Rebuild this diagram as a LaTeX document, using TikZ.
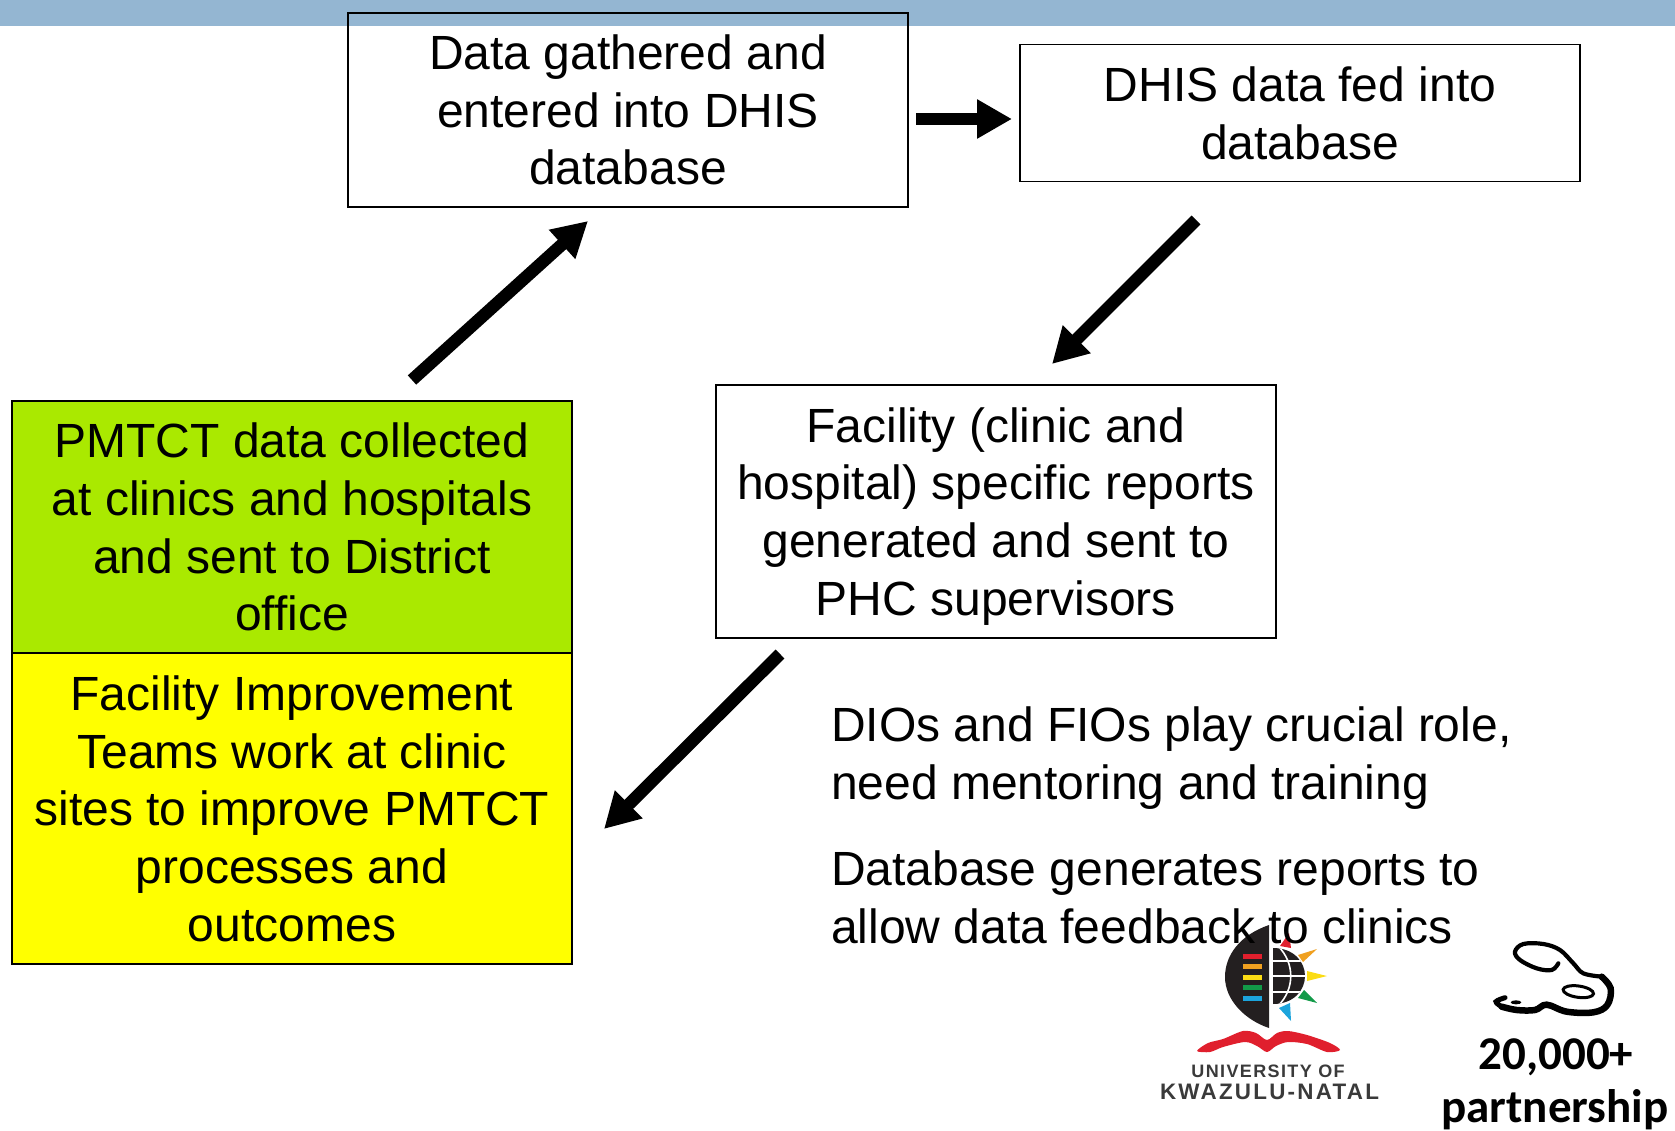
\documentclass[tikz,border=0pt]{standalone}
\usepackage{fontspec}
\setmainfont{Liberation Sans}
\newfontfamily\calibrib[Scale=1]{Carlito}
\usetikzlibrary{arrows.meta}
\definecolor{band}{HTML}{94B6D2}
\definecolor{greenbox}{HTML}{AAE900}
\definecolor{yellowbox}{HTML}{FFFF00}
\definecolor{shieldblack}{HTML}{231F20}
\definecolor{logored}{HTML}{E01F2D}
\definecolor{logoorange}{HTML}{F0A020}
\definecolor{logoyellow}{HTML}{FBDC14}
\definecolor{logogreen}{HTML}{129A48}
\definecolor{logoblue}{HTML}{1CA4DC}
\definecolor{logotext}{HTML}{3A3A3A}
\tikzset{
  flowbox/.style={draw=black,line width=1.8pt,inner sep=0pt,align=center,font=\fontsize{48}{57.8}\selectfont},
  flowarrow/.style={line width=12.5pt,-{Triangle[length=35pt,width=37pt]}},
  sidetext/.style={inner sep=0pt,align=left,anchor=west,font=\fontsize{48}{57.8}\selectfont},
  partner/.style={inner sep=0pt,text=black,font=\fontsize{47}{50}\calibrib\bfseries}
}
\begin{document}
\begin{tikzpicture}[x=1pt,y=-1pt]
\useasboundingbox (0,0) rectangle (1675,1131);
\fill[band] (0,0) rectangle (1675,26);
%
% UKZN logo
\fill[shieldblack] (1269,925) .. controls (1240,935) and (1225,955) .. (1225,977) .. controls (1225,1000) and (1245,1020) .. (1269,1028) -- cycle;
\fill[logored] (1243.3,953.8) rectangle (1261.7,958.8);
\fill[logoorange] (1243.3,964.2) rectangle (1261.7,969.2);
\fill[logoyellow] (1243.3,974.8) rectangle (1261.7,979.8);
\fill[logogreen] (1243.3,985.2) rectangle (1261.7,990.2);
\fill[logoblue] (1243.3,995.8) rectangle (1261.7,1000.8);
\begin{scope}
\clip (1273,948) .. controls (1294,948) and (1305,962) .. (1305,976) .. controls (1305,990) and (1294,1004) .. (1273,1004) -- cycle;
\fill[shieldblack] (1260,940) rectangle (1310,1010);
\draw[white,line width=1.6pt] (1270,961) -- (1310,961) (1270,976) -- (1310,976) (1270,992) -- (1310,992);
\draw[white,line width=1.6pt] (1278,946) .. controls (1295,963) and (1295,989) .. (1278,1006);
\end{scope}
\fill[logored] (1289,933) -- (1280,946) -- (1291,948) -- cycle;
\fill[logoorange] (1317,949) -- (1298,955) -- (1303,962) -- cycle;
\fill[logoyellow] (1327,976) -- (1307,971) -- (1307,981) -- cycle;
\fill[logogreen] (1317,1003) -- (1304,990) -- (1298,998) -- cycle;
\fill[logoblue] (1291,1021) -- (1279,1008) -- (1290,1003) -- cycle;
\fill[logored] plot[smooth cycle,tension=0.5] coordinates {(1197,1051) (1208,1043) (1223,1039) (1243,1031) (1256,1033) (1267,1040) (1277,1033) (1288,1031) (1307,1035) (1330,1043) (1340,1050) (1327,1052) (1307,1044) (1288,1042) (1276,1046) (1267,1052) (1257,1046) (1245,1042) (1223,1047) (1210,1052)};
\node[inner sep=0pt,text=logotext,font=\fontsize{18}{20}\selectfont\bfseries\addfontfeature{LetterSpace=7.7}] (ukznA) at (1268,1071) {UNIVERSITY OF};
\node[inner sep=0pt,text=logotext,font=\fontsize{22.4}{24}\selectfont\bfseries\addfontfeature{LetterSpace=10}] (ukznB) at (1269.5,1091.5) {KWAZULU-NATAL};
%
% partnership symbol
\begin{scope}[shift={(1480,930)},x=0.3333pt,y=-0.3333pt]
\draw[black,line width=4.2pt,line cap=round] plot[smooth,tension=0.6] coordinates {(235,100) (215,120) (170,115) (120,90) (105,65) (130,42) (190,42) (240,60) (280,100) (310,130) (365,140)};
\draw[black,line width=6.5pt,line cap=round] plot[smooth,tension=0.6] coordinates {(365,140) (392,175) (382,225) (340,247) (260,245) (200,224) (165,240) (110,240) (65,230)};
\draw[black,line width=5pt,line cap=round] plot[smooth,tension=0.6] coordinates {(65,230) (48,215) (75,203)};
\draw[black,line width=3pt] (295,185) ellipse [x radius=46,y radius=17,rotate=-8];
\fill[black] (108,217) ellipse [x radius=16,y radius=6];
\end{scope}
\node[partner] (count) at (1556,1057) {20,000+};
\node[partner] (pship) at (1555,1109.5) {partnership};
%
% flow boxes
\node[flowbox,minimum width=560pt,minimum height=194pt] (gather) at (628,110) {Data gathered and\\entered into DHIS\\database};
\node[flowbox,minimum width=560pt,minimum height=137pt] (feed) at (1300,113) {DHIS data fed into\\database};
\node[flowbox,minimum width=560pt,minimum height=253pt,text depth=0pt] (report) at (996,511.5) {\rule{0pt}{9pt}Facility (clinic and\\hospital) specific reports\\generated and sent to\\PHC supervisors};
\node[flowbox,fill=greenbox,minimum width=560pt,minimum height=252pt] (collect) at (292,527) {PMTCT data collected\\at clinics and hospitals\\and sent to District\\office};
\node[flowbox,fill=yellowbox,minimum width=560pt,minimum height=311pt] (improve) at (292,808.7) {Facility Improvement\\Teams work at clinic\\sites to improve PMTCT\\processes and\\outcomes};
%
% side text
\node[sidetext] (dios) at (831,758) {DIOs and FIOs play crucial role,\\need mentoring and training};
\node[sidetext] (dbase) at (831,897.5) {Database generates reports to\\allow data feedback to clinics};
%
% connector ends
\coordinate (a1s) at (412,380);
\coordinate (a1e) at (588,221);
\coordinate (a2s) at (916,119);
\coordinate (a2e) at (1012,119);
\coordinate (a3s) at (1196,220);
\coordinate (a3e) at (1052,364);
\coordinate (a4s) at (780,654);
\coordinate (a4e) at (604,829);
\draw[flowarrow] (a1s) -- (a1e);
\draw[flowarrow] (a2s) -- (a2e);
\draw[flowarrow] (a3s) -- (a3e);
\draw[flowarrow] (a4s) -- (a4e);
\end{tikzpicture}
\end{document}
